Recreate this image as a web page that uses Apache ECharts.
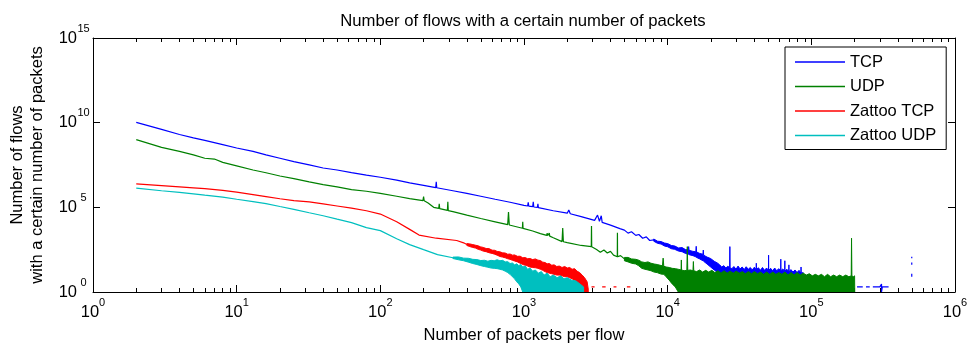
<!DOCTYPE html>
<html>
<head>
<meta charset="utf-8">
<script src="https://cdn.jsdelivr.net/npm/echarts@6/dist/echarts.min.js"></script>
<style>
html,body{margin:0;padding:0;background:#fff;}
#chart{width:969px;height:345px;}
</style>
</head>
<body>
<div id="chart"></div>
<script>
// ---------- data ----------
const seriesNames = ['TCP', 'UDP', 'Zattoo TCP', 'Zattoo UDP'];
const xMajorTicks = [1, 10, 100, 1000, 10000, 100000, 1000000];
const xMinorTicks = [2,3,4,5,6,7,8,9, 20,30,40,50,60,70,80,90, 200,300,400,500,600,700,800,900,
  2000,3000,4000,5000,6000,7000,8000,9000, 20000,30000,40000,50000,60000,70000,80000,90000,
  200000,300000,400000,500000,600000,700000,800000,900000];
const yMajorTicks = [1, 1e5, 1e10, 1e15];

// TCP: [packets, flows] for the thin part, plus sparse tail
const tcpLine = [
  [2,1.05e10],[3,4.0e9],[4,2.0e9],[5,1.26e9],[6,8.9e8],[8,5.0e8],[10,3.2e8],[13,2.0e8],[16,1.26e8],
  [20,7.9e7],[25,5.0e7],[32,3.2e7],[40,2.1e7],[50,1.6e7],[63,1.12e7],[80,7.9e6],[100,6.0e6],
  [130,4.0e6],[160,2.8e6],[200,2.0e6],[243,1.45e6],[245,3.2e6],[247,1.44e6],[320,9.5e5],[400,6.6e5],
  [500,4.5e5],[630,3.0e5],[800,2.0e5],[1000,1.3e5],[1060,1.2e5],[1070,2.0e5],[1080,1.18e5],
  [1150,1.1e5],[1160,2.1e5],[1170,1.05e5],[1240,1.0e5],[1250,1.6e5],[1260,9.5e4],[1600,6.3e4],
  [2000,4.5e4],[2050,7.0e4],[2100,4.2e4],[2500,2.8e4],[3100,1.7e4],[3250,3.5e4],[3350,1.5e4],
  [3450,3.2e4],[3500,1.3e4],[4000,8.9e3],[4650,5.5e3],[4700,7.0e3],[4750,5.0e3],[5000,4.5e3],
  [5300,3.0e3],[5600,3.6e3],[6000,2.2e3],[6300,2.5e3],[6700,1.5e3],[7100,1.8e3],[7500,1.1e3],
  [8000,1.2e3],
  [100000,null],[208000,2],[228000,2],[234000,null],[240000,2],[255000,2],[260000,null],
  [268000,2],[300000,2],[308000,2],[308000,3],[308000,1],[312000,2],[345000,2],[400000,null],
  [500000,8],[500000,12],[500000,null],[500000,40],[500000,55],[500000,null],[500000,100],[500000,120]
];
// TCP noisy band: [packets, low, high]
const tcpBand = [
  [8000,1000,1350],[8500,750,1000],[9000,680,950],[9500,520,780],[10000,470,720],[10600,360,560],
  [11200,330,520],[11900,260,400],[12600,240,420],[13300,190,320],[13900,170,300],[14000,170,480],
  [14100,160,290],[15000,140,250],[15700,120,240],[15800,110,500],[15900,110,230],[16700,90,190],
  [17600,70,170],[17700,70,300],[17800,65,150],[18800,45,115],[19900,30,95],[21100,20,65],
  [22300,14,50],[23000,10,40],[23800,8,30],[24600,7,36],[25400,6,26],[26200,6,33],[27000,6,28],
  [27100,6,480],[27200,6,27],[28000,5,24],[28900,5,32],[29900,5,22],[30900,5,34],[31900,5,23],
  [33000,5,30],[34100,5,21],[35200,5,31],[36400,5,22],[37600,5,28],[38800,5,20],[40100,5,29],
  [41300,5,21],[41400,5,50],[41500,5,21],[42800,5,27],[44200,5,19],[45700,5,28],[47200,5,19],
  [48800,5,26],[50300,5,19],[50400,5,150],[50500,5,19],[52100,5,25],[53800,5,18],[55600,5,26],
  [57400,5,18],[59300,5,24],[61200,5,18],[61300,5,87],[61400,5,18],[63300,5,23],[65300,5,17],
  [65400,5,70],[65500,5,17],[67600,5,22],[69700,5,16],[69800,5,40],[69900,5,16],[72100,5,21],
  [74500,5,15],[77000,5,20],[79500,5,14],[82100,5,19],[84700,5,13],[84800,5,30],[84900,5,13],
  [87600,3,14],[89000,2,4]
];

// UDP
const udpLine = [
  [2,1.0e9],[3,3.5e8],[4,2.0e8],[5,1.26e8],[6,7.9e7],[7,7.1e7],[8,4.5e7],[10,2.8e7],[13,1.6e7],
  [16,1.1e7],[20,7.1e6],[25,5.0e6],[32,3.2e6],[40,2.2e6],[50,1.6e6],[63,1.1e6],[80,8.9e5],
  [100,6.6e5],[130,4.5e5],[160,3.3e5],[198,2.5e5],[200,4.3e5],[202,2.45e5],[215,1.8e5],[235,1.0e5],
  [255,8.6e4],[257,1.6e5],[259,8.4e4],[293,6.6e4],[295,2.1e5],[297,6.4e4],[320,5.6e4],[400,3.5e4],
  [500,2.2e4],[630,1.4e4],[770,9.5e3],[780,5.2e4],[790,9.0e3],[975,5.8e3],[980,1.4e4],[985,5.7e3],
  [1150,4.0e3],[1300,2.8e3],[1440,2.2e3],[1450,3.0e3],[1460,2.1e3],[1500,3.0e3],[1510,2.0e3],
  [1600,1.6e3],[1840,950],[1860,6.0e3],[1880,930],[2000,830],[2500,560],[2940,480],[2950,7.9e3],
  [2960,470],[3200,320],[3400,220],[3600,300],[3800,200],[4000,250],[4200,150],[4460,120],
  [4470,3.2e3],[4480,120],[4700,140],[5000,90]
];
const udpBand = [
  [5000,70,110],[5300,60,110],[5600,50,90],[6000,45,85],[6300,35,75],[6600,25,60],[6950,22,55],
  [7300,20,60],[7650,18,50],[8050,15,45],[8450,14,42],[8850,12,38],[9200,11,35],[9300,11,100],
  [9400,11,33],[9750,8,30],[10250,5,28],[10750,3,25],[11300,2,24],[11850,1,22],[12400,1,20],
  [12450,1,78],[12500,1,20],[13000,1,18],[13600,1,19],[13700,1,480],[13800,1,19],[14400,1,20],
  [15000,1,18],[15100,1,63],[15200,1,18],[15900,1,16],[16700,1,20],[17500,1,15],[18400,1,19],
  [19300,1,15],[20300,1,19],[21300,1,14],[22400,1,18],[23500,1,13],[24700,1,18],[25900,1,13],
  [27200,1,17],[28600,1,13],[30000,1,17],[31500,1,13],[33100,1,16],[34700,1,12],[36500,1,16],
  [38300,1,12],[40200,1,16],[42200,1,12],[44300,1,15],[46500,1,11],[48900,1,15],[51300,1,11],
  [53900,1,15],[56600,1,11],[59400,1,14],[62400,1,11],[65500,1,15],[68800,1,10],[72200,1,14],
  [75800,1,10],[79600,1,14],[83600,1,10],[87800,1,13],[92200,1,10],[96800,1,12],[101600,1,9],
  [106700,1,11],[112000,1,9],[117600,1,11],[123500,1,8],[129700,1,11],[136200,1,8],[143000,1,10],
  [150100,1,8],[157600,1,10],[165500,1,8],[173800,1,10],[182500,1,8],[189500,1,9],[190500,1,1500],
  [191600,1,9],[196000,1,8],[200000,1,9],[200500,1,1]
];

// Zattoo TCP
const zattooTcpLine = [
  [2,2.4e6],[3,1.9e6],[4,1.6e6],[5,1.4e6],[6,1.26e6],[8,1.0e6],[10,7.9e5],[13,5.6e5],[16,4.3e5],
  [20,3.2e5],[25,2.5e5],[32,2.1e5],[40,1.6e5],[50,1.2e5],[63,8.9e4],[80,6.3e4],[100,4.0e4],
  [130,1.4e4],[160,5.0e3],[186,2.3e3],[245,1.5e3],[340,1.1e3],[380,800],[400,640],
  [2800,null],[2950,2],[3100,2],[3150,null],[3500,2],[3700,2],[3750,null],[4200,2],[4400,2],
  [4450,null],[5200,2],[5500,2]
];
const zattooTcpBand = [
  [400,560,720],[420,480,690],[440,430,630],[460,390,580],[480,330,530],[500,300,460],[520,260,430],
  [545,240,370],[570,210,365],[600,190,295],[625,170,290],[650,150,250],[680,125,235],[710,115,205],
  [740,105,200],[770,92,170],[800,85,175],[830,75,150],[860,68,155],[900,60,128],[940,50,130],
  [980,42,105],[1020,38,108],[1060,34,92],[1100,30,95],[1150,28,82],[1200,27,90],[1250,25,76],
  [1300,22,72],[1350,19,58],[1400,16,55],[1450,14,46],[1500,13,48],[1560,12,38],[1620,11,40],
  [1690,10,32],[1760,10,34],[1840,9,28],[1920,8,32],[2000,8,26],[2080,7,28],[2160,6,22],[2250,5,24],
  [2340,4,17],[2440,2,14],[2540,1,10],[2640,1,7],[2750,1,4],[2800,1,1.5]
];

// Zattoo UDP
const zattooUdpLine = [
  [2,1.35e6],[3,9.5e5],[4,7.6e5],[5,6.3e5],[6,5.2e5],[8,4.0e5],[10,3.0e5],[13,2.2e5],[16,1.66e5],
  [20,1.12e5],[25,7.6e4],[32,4.8e4],[40,3.2e4],[50,2.0e4],[63,1.26e4],[80,6.3e3],[100,4.2e3],
  [130,1.4e3],[160,630],[200,316],[250,160],[320,105]
];
const zattooUdpBand = [
  [320,95,115],[350,80,118],[380,70,100],[410,58,98],[440,48,85],[470,42,82],[500,36,72],[530,32,75],
  [560,29,66],[590,26,74],[620,25,70],[650,24,80],[680,22,70],[710,20,74],[740,17,60],[770,14,62],
  [800,11,48],[830,8,52],[860,6,40],[890,4,46],[920,3,36],[950,2,42],[980,1,30],[1020,1,34],
  [1060,1,22],[1100,1,26],[1150,1,17],[1200,1,20],[1260,1,13],[1320,1,16],[1380,1,10],[1450,1,13],
  [1520,1,8],[1600,1,10],[1700,1,7],[1800,1,9],[1900,1,6],[2000,1,7],[2150,1,5],[2300,1,4.5],
  [2450,1,3],[2600,1,2]
];

// ---------- chart ----------
const COLORS = {TCP:'#0000ff', UDP:'#008000', 'Zattoo TCP':'#ff0000', 'Zattoo UDP':'#00bfbf'};
const FONT = 'Liberation Sans, Arial, Helvetica, sans-serif';
const FS = 16.5;
const GRID = {left: 93, right: 14, top: 38, bottom: 53, containLabel: false, outerBoundsMode: 'none'};

function expLabel(v) {
  const e = Math.round(Math.log10(v));
  return '{b|10}{s|' + e + '}';
}
const xRich = {
  b: {fontSize: FS, fontFamily: FONT, color: '#000', lineHeight: 30},
  s: {fontSize: 11, fontFamily: FONT, color: '#000', lineHeight: 12, verticalAlign: 'top'}
};
const yRich = {
  b: {fontSize: FS, fontFamily: FONT, color: '#000', lineHeight: 30},
  s: {fontSize: 11, fontFamily: FONT, color: '#000', lineHeight: 12, verticalAlign: 'top', width: 13, align: 'left'}
};
// keep the top label inside the scale extent despite floating-point rounding
const yLabelValues = yMajorTicks.map((v, i, a) => i === a.length - 1 ? v * (1 - 1e-12) : v);
const xLabelValues = xMajorTicks.map((v, i, a) => i === a.length - 1 ? v * (1 - 1e-12) : v);

function xTickAxis(gridIndex, pos, ticks, len, showLine) {
  return {
    type: 'log', logBase: 10, min: 1, max: 1e6, position: pos, gridIndex: gridIndex,
    axisLine: {show: showLine, onZero: false, lineStyle: {color: '#000', width: 1}},
    axisTick: {show: true, inside: true, length: len, customValues: ticks, lineStyle: {color: '#000', width: 1}},
    axisLabel: {show: false},
    splitLine: {show: false}, minorTick: {show: false}
  };
}

const xAxes = [
  Object.assign(xTickAxis(0, 'bottom', xLabelValues, 7, true), {
    axisLabel: {show: true, customValues: xLabelValues, formatter: expLabel, rich: xRich, margin: 5,
      showMinLabel: true, showMaxLabel: true},
    name: 'Number of packets per flow', nameLocation: 'middle', nameGap: 35,
    nameTextStyle: {fontSize: FS, fontFamily: FONT, color: '#000'}
  }),
  xTickAxis(0, 'top', xLabelValues, 7, true),
  xTickAxis(1, 'bottom', xMinorTicks, 4, false),
  xTickAxis(1, 'top', xMinorTicks, 4, false)
];

const yAxes = [
  {
    type: 'log', logBase: 10, min: 1, max: 1e15, position: 'left', gridIndex: 0,
    axisLine: {show: true, onZero: false, lineStyle: {color: '#000', width: 1}},
    axisTick: {show: true, inside: true, length: 7, customValues: yLabelValues, lineStyle: {color: '#000'}},
    axisLabel: {show: true, customValues: yLabelValues, formatter: expLabel, rich: yRich, margin: 3,
      showMinLabel: true, showMaxLabel: true},
    splitLine: {show: false},
    name: 'Number of flows\nwith a certain number of packets', nameLocation: 'middle', nameGap: 46,
    nameTextStyle: {fontSize: FS, fontFamily: FONT, color: '#000', lineHeight: 20, align: 'center'}
  },
  {
    type: 'log', logBase: 10, min: 1, max: 1e15, position: 'right', gridIndex: 0,
    axisLine: {show: true, onZero: false, lineStyle: {color: '#000', width: 1}},
    axisTick: {show: true, inside: true, length: 7, customValues: yLabelValues, lineStyle: {color: '#000'}},
    axisLabel: {show: false}, splitLine: {show: false}
  },
  {
    type: 'log', logBase: 10, min: 1, max: 1e15, gridIndex: 1, show: false
  }
];

function lineSeries(name, data) {
  return {
    name: name, type: 'line', data: data, xAxisIndex: 0, yAxisIndex: 0,
    showSymbol: false, symbol: 'none', connectNulls: false, animation: false,
    color: COLORS[name], itemStyle: {color: COLORS[name], borderWidth: 0},
    lineStyle: {color: COLORS[name], width: 1.2},
    emphasis: {disabled: true}
  };
}
// noisy stretch of a series, drawn as a filled band between its low and high values
function bandSeries(name, band) {
  const color = COLORS[name];
  return {
    name: name + ' (noise)', type: 'custom', coordinateSystem: 'cartesian2d', xAxisIndex: 0, yAxisIndex: 0,
    data: band, dimensions: ['x', 'lo', 'hi'], encode: {x: 0, y: [1, 2]},
    clip: true, animation: false, silent: true, color: color, itemStyle: {color: color},
    renderItem: function (params, api) {
      if (params.dataIndex !== 0) return null;
      const upper = band.map(d => api.coord([d[0], d[2]]));
      const lower = band.slice().reverse().map(d => api.coord([d[0], d[1]]));
      return {
        type: 'polygon',
        shape: {points: upper.concat(lower)},
        style: {fill: color, stroke: color, lineWidth: 1}
      };
    }
  };
}

const option = {
  animation: false,
  backgroundColor: '#fff',
  title: {
    text: 'Number of flows with a certain number of packets',
    left: 518, top: 8, textAlign: 'center',
    textStyle: {fontSize: 16.7, fontWeight: 'normal', fontFamily: FONT, color: '#000'}
  },
  grid: [Object.assign({}, GRID), Object.assign({}, GRID)],
  legend: {
    data: seriesNames.map(n => ({
      name: n, icon: 'rect',
      itemStyle: {color: COLORS[n], borderWidth: 0, opacity: 1}
    })),
    orient: 'vertical', left: 785, top: 47,
    itemWidth: 50, itemHeight: 1.5, itemGap: 6.5,
    itemStyle: {borderWidth: 0},
    padding: [6, 10, 5, 10],
    backgroundColor: '#fff', borderColor: '#000', borderWidth: 1,
    textStyle: {fontSize: FS, fontFamily: FONT, color: '#000', lineHeight: 18},
    selectedMode: false
  },
  xAxis: xAxes,
  yAxis: yAxes,
  series: [
    lineSeries('TCP', tcpLine),
    bandSeries('TCP', tcpBand),
    lineSeries('UDP', udpLine),
    bandSeries('UDP', udpBand),
    lineSeries('Zattoo TCP', zattooTcpLine),
    bandSeries('Zattoo TCP', zattooTcpBand),
    lineSeries('Zattoo UDP', zattooUdpLine),
    bandSeries('Zattoo UDP', zattooUdpBand)
  ]
};

const chart = echarts.init(document.getElementById('chart'), null, {renderer: 'canvas'});
chart.setOption(option);
</script>
</body>
</html>
